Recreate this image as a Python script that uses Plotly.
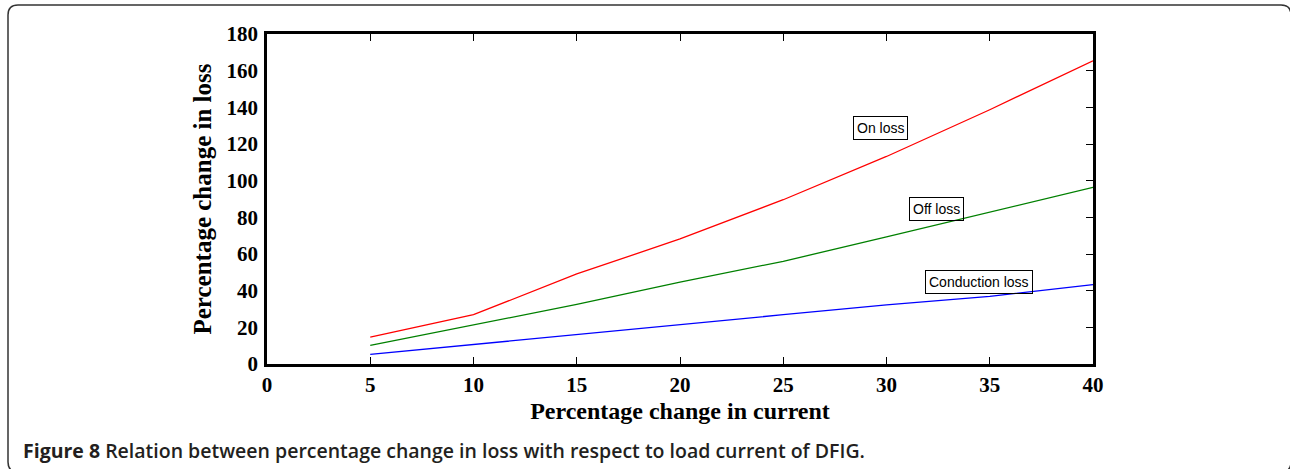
import plotly.graph_objects as go

current = [5, 10, 15, 20, 25, 30, 35, 40]
on_loss = [14.7, 26.9, 49.1, 68.2, 89.6, 113.2, 138.7, 165.4]
off_loss = [10.1, 21.3, 32.5, 44.7, 56.0, 69.3, 82.7, 96.3]
cond_loss = [5.2, 10.7, 16.0, 21.3, 26.9, 32.3, 36.9, 43.3]

labels = ["On loss", "Off loss", "Conduction loss"]
label_x = [29.7, 32.4, 34.5]
label_y = [128.6, 84.7, 44.6]

x_ticks = [0, 5, 10, 15, 20, 25, 30, 35, 40]
y_ticks = [0, 20, 40, 60, 80, 100, 120, 140, 160, 180]

W, H = 1290, 469
L, R, T, B = 267, 197, 34, 105
PW, PH = W - L - R, H - T - B


def px(X):
    return (X - L) / PW


def py(Y):
    return (H - B - Y) / PH


fig = go.Figure()
for ys, col, name in [(on_loss, "#ff0000", "On loss"), (off_loss, "#008000", "Off loss"),
                      (cond_loss, "#0000ff", "Conduction loss")]:
    fig.add_trace(go.Scatter(x=current, y=ys, mode="lines", name=name,
                             line=dict(color=col, width=1.3), showlegend=False))

# invisible trace for right axis ticks
fig.add_trace(go.Scatter(x=[0], y=[0], yaxis="y2", mode="lines", showlegend=False,
                         line=dict(width=0), hoverinfo="skip"))

tickfont = dict(family="Liberation Serif", size=21, color="black")

fig.update_layout(
    width=W, height=H,
    margin=dict(l=L, r=R, t=T, b=B),
    paper_bgcolor="white", plot_bgcolor="white",
    xaxis=dict(range=[0, 40], tickvals=x_ticks, ticktext=[f"<b>{v}</b>" for v in x_ticks],
               ticks="inside", ticklen=7, tickwidth=1, tickcolor="black",
               showline=True, linecolor="black", linewidth=2.5, mirror="ticks",
               showgrid=False, zeroline=False, tickfont=tickfont,
               title=dict(text="<b>Percentage change in current</b>",
                          font=dict(family="Liberation Serif", size=24, color="black"),
                          standoff=7)),
    yaxis=dict(range=[0, 180], tickvals=y_ticks, ticktext=[f"<b>{v}</b>" for v in y_ticks],
               ticks="", showline=True, linecolor="black", linewidth=2.5, mirror=True,
               showgrid=False, zeroline=False, tickfont=tickfont, ticklabelstandoff=2,
               title=dict(text="<b>Percentage change in loss</b>",
                          font=dict(family="Liberation Serif", size=25, color="black"),
                          standoff=8)),
    yaxis2=dict(range=[0, 180], tickvals=y_ticks, overlaying="y", side="right",
                ticks="inside", ticklen=7, tickwidth=1, tickcolor="black",
                showticklabels=False, showline=False, showgrid=False, zeroline=False),
)

for t, xv, yv in zip(labels, label_x, label_y):
    fig.add_annotation(x=xv, y=yv, xref="x", yref="y", text=t, showarrow=False,
                       font=dict(family="Liberation Sans", size=14, color="black"),
                       bordercolor="black", borderwidth=1, borderpad=3)

fig.add_annotation(xref="paper", yref="paper", x=px(21), y=py(450), xanchor="left",
                   yanchor="middle", showarrow=False,
                   text="<b>Figure 8</b> <span style='font-weight:600'>Relation between percentage change in loss with respect to load current of DFIG.</span>",
                   font=dict(family="Open Sans", size=19.5, color="#231f20"))

# rounded frame
x0, x1, y0, y1, r = 8, 1291, 5, 472, 10
path = (f"M {px(x0)},{py(y0 + r)} Q {px(x0)},{py(y0)} {px(x0 + r)},{py(y0)} "
        f"L {px(x1 - r)},{py(y0)} Q {px(x1)},{py(y0)} {px(x1)},{py(y0 + r)} "
        f"L {px(x1)},{py(y1 - r)} Q {px(x1)},{py(y1)} {px(x1 - r)},{py(y1)} "
        f"L {px(x0 + r)},{py(y1)} Q {px(x0)},{py(y1)} {px(x0)},{py(y1 - r)} Z")
fig.add_shape(type="path", path=path, xref="paper", yref="paper",
              line=dict(color="#333333", width=1.5), layer="below")

fig.write_html("out.html", config={"displayModeBar": False},
               post_script="document.body.style.margin='0px';")
